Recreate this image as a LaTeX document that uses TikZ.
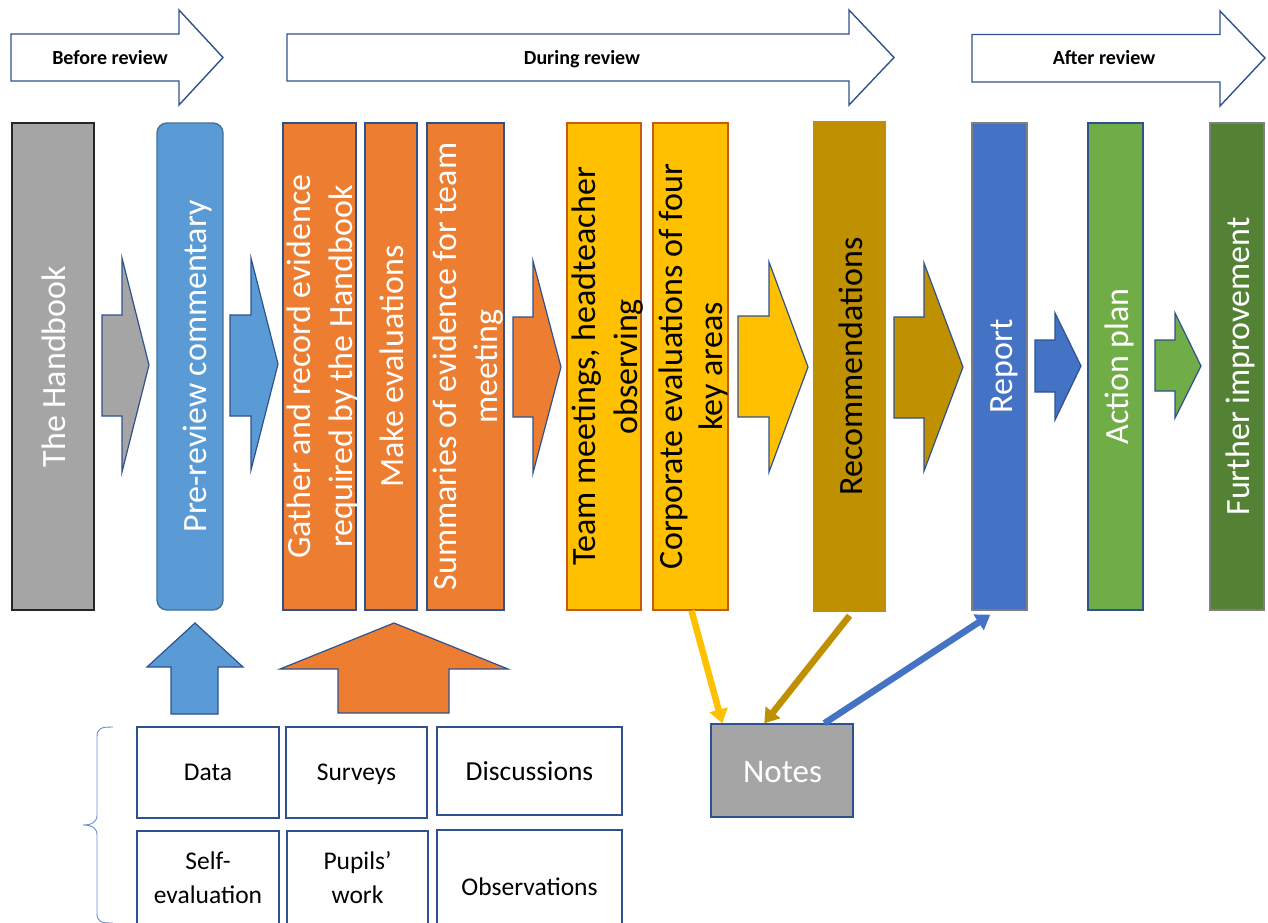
\documentclass[tikz,border=0pt]{standalone}
\usepackage{fontspec}
\setmainfont{Carlito}
\usetikzlibrary{arrows.meta,calc}
\definecolor{cgray}{HTML}{A5A5A5}
\definecolor{cblue}{HTML}{5B9BD5}
\definecolor{corange}{HTML}{ED7D31}
\definecolor{cyellow}{HTML}{FFC000}
\definecolor{cbrown}{HTML}{BF9000}
\definecolor{cdblue}{HTML}{4472C4}
\definecolor{cgreen}{HTML}{70AD47}
\definecolor{cdgreen}{HTML}{548235}
\definecolor{cline}{HTML}{2F528F}
\definecolor{cblueline}{HTML}{41719C}
\definecolor{cyline}{HTML}{C55A11}
\definecolor{cgline}{HTML}{7F7F7F}
\newcommand\myrotfont{\fontsize{34}{42}\selectfont}
\newcommand\mysmallfont{\fontsize{25.5}{31}\selectfont}
\tikzset{
  toparrow/.style={draw=cline, fill=white, line width=1.4pt, line join=miter},
  blk/.style={draw=cline, line width=1.2pt, line join=miter},
  mainbox/.style={rectangle, inner sep=0pt, minimum height=487pt, line width=1.4pt},
  smallbox/.style={rectangle, inner sep=0pt, draw=cline, fill=white, line width=1.4pt},
  headtxt/.style={anchor=base, font=\fontsize{20}{24}\selectfont\bfseries, inner sep=0pt},
  rottxt/.style={anchor=base, rotate=90, font=\myrotfont, inner sep=0pt},
  btxt/.style={anchor=base, font=\mysmallfont, inner sep=0pt},
  conn/.style={line width=6.5pt, -{Triangle[length=14pt,width=18pt]}},
}
\begin{document}
\begin{tikzpicture}[x=1pt,y=-1pt]
\clip (0,0) rectangle (1268,922);
\fill[white] (0,0) rectangle (1268,922);

% ---- top phase arrows
\path[toparrow] (11,34) -- (179,34) -- (179,10) -- (223,57.5) -- (179,105) -- (179,81) -- (11,81) -- cycle;
\path[toparrow] (287,34) -- (849,34) -- (849,10) -- (894,57.5) -- (849,105) -- (849,81) -- (287,81) -- cycle;
\path[toparrow] (972,34.5) -- (1220,34.5) -- (1220,11) -- (1265,58) -- (1220,106) -- (1220,82) -- (972,82) -- cycle;
\node[headtxt] (before) at (110,64.3) {Before review};
\node[headtxt] (during) at (582,64.3) {During review};
\node[headtxt] (after) at (1104,64.3) {After review};

% ---- main boxes
\node[mainbox, fill=cgray, draw=black!85, minimum width=82pt] (hb) at (53,366.5) {};
\node[mainbox, fill=cblue, draw=cblueline, minimum width=66pt, rounded corners=10pt] (pre) at (190,366.5) {};
\node[mainbox, fill=corange, draw=cline, minimum width=73pt] (gather) at (319.5,366.5) {};
\node[mainbox, fill=corange, draw=cline, minimum width=52pt] (make) at (391,366.5) {};
\node[mainbox, fill=corange, draw=cline, minimum width=77pt] (summ) at (465.5,366.5) {};
\node[mainbox, fill=cyellow, draw=cyline, minimum width=74pt] (team) at (604,366.5) {};
\node[mainbox, fill=cyellow, draw=cyline, minimum width=75pt] (corp) at (690.5,366.5) {};
\node[mainbox, fill=cbrown, draw=cbrown, minimum width=71pt, minimum height=489pt] (rec) at (849.5,366.5) {};
\node[mainbox, fill=cdblue, draw=cgline, minimum width=55pt] (report) at (999.5,366.5) {};
\node[mainbox, fill=cgreen, draw=cline, minimum width=55pt] (action) at (1115.5,366.5) {};
\node[mainbox, fill=cdgreen, draw=cgline, minimum width=54pt] (further) at (1237,366.5) {};

% ---- rotated texts
\node[rottxt, text=white] at (65,366.5) {The Handbook};
\node[rottxt, text=white] at (206,366.5) {Pre-review commentary};
\node[rottxt, text=white] at (310,366.5) {Gather and record evidence};
\node[rottxt, text=white] at (352,366.5) {required by the Handbook};
\node[rottxt, text=white] at (403,366.5) {Make evaluations};
\node[rottxt, text=white] at (456,366.5) {Summaries of evidence for team};
\node[rottxt, text=white] at (497,366.5) {meeting};
\node[rottxt, text=black] at (595,366.5) {Team meetings, headteacher};
\node[rottxt, text=black] at (637,366.5) {observing};
\node[rottxt, text=black] at (682,366.5) {Corporate evaluations of four};
\node[rottxt, text=black] at (722,366.5) {key areas};
\node[rottxt, text=black] at (862,366.5) {Recommendations};
\node[rottxt, text=white] at (1012,366.5) {Report};
\node[rottxt, text=white] at (1128,366.5) {Action plan};
\node[rottxt, text=white] at (1249,366.5) {Further improvement};

% ---- block arrows between boxes
\path[blk, fill=cgray] (102,315) -- (122,315) -- (122,258) -- (149,365) -- (122,472) -- (122,416) -- (102,416) -- cycle;
\path[blk, fill=cblue] (230,315) -- (251,315) -- (251,258) -- (278,364) -- (251,470) -- (251,416) -- (230,416) -- cycle;
\path[blk, fill=corange] (513,317) -- (533,317) -- (533,261) -- (561,367) -- (533,473) -- (533,417) -- (513,417) -- cycle;
\path[blk, fill=cyellow] (738,316) -- (769,316) -- (769,262) -- (808,367) -- (769,472) -- (769,417) -- (738,417) -- cycle;
\path[blk, fill=cbrown] (894,317) -- (924,317) -- (924,263) -- (963,367) -- (924,471) -- (924,418) -- (894,418) -- cycle;
\path[blk, fill=cdblue] (1035,340) -- (1055,340) -- (1055,313) -- (1081,366) -- (1055,420) -- (1055,392) -- (1035,392) -- cycle;
\path[blk, fill=cgreen] (1155,340) -- (1175,340) -- (1175,313) -- (1201,366) -- (1175,418) -- (1175,391) -- (1155,391) -- cycle;

% ---- upward block arrows
\path[blk, fill=cblue] (171,714) -- (171,667) -- (147,667) -- (195,623) -- (243,667) -- (218,667) -- (218,714) -- cycle;
\path[blk, fill=corange] (338,713) -- (338,669) -- (280,669) -- (394,623) -- (508,669) -- (449,669) -- (449,713) -- cycle;

% ---- source boxes
\node[smallbox, minimum width=142pt, minimum height=91pt] (data) at (208,772.5) {};
\node[smallbox, minimum width=141pt, minimum height=91pt] (surv) at (356.5,772.5) {};
\node[smallbox, minimum width=185pt, minimum height=88pt] (disc) at (529.5,771) {};
\node[smallbox, minimum width=142pt, minimum height=130pt] (self) at (208,896) {};
\node[smallbox, minimum width=141pt, minimum height=130pt] (pup) at (357.5,896) {};
\node[smallbox, minimum width=185pt, minimum height=130pt] (obs) at (529.5,895) {};
\node[btxt] at (208,780.7) {Data};
\node[btxt] at (356.5,780.7) {Surveys};
\node[btxt, font=\fontsize{27.5}{33}\selectfont] at (529.5,780) {Discussions};
\node[btxt] at (208,869) {Self-};
\node[btxt] at (208,903) {evaluation};
\node[btxt] at (357.5,869) {Pupils’};
\node[btxt] at (357.5,903) {work};
\node[btxt] at (529.5,895) {Observations};

% ---- brace
\draw[cdblue!80, line width=0.9pt] (113,727) .. controls (101,727) and (97,728) .. (97,737) -- (97,815) .. controls (97,822) and (92,825) .. (83,825) .. controls (92,825) and (97,828) .. (97,835) -- (97,913) .. controls (97,922) and (101,923) .. (113,923);

% ---- notes
\node[rectangle, fill=cgray, draw=cline, line width=1.4pt, minimum width=142pt, minimum height=93pt, inner sep=0pt] (notes) at (782,770.5) {};
\node[anchor=base, text=white, font=\fontsize{33}{40}\selectfont, inner sep=0pt] at (782.5,782.7) {Notes};

% ---- connectors
\draw[conn, draw=cyellow] ($(corp.south)+(1,0)$) -- ($(notes.north west)+(12,0)$);
\draw[conn, draw=cbrown] ($(rec.south)+(0,4)$) -- ($(notes.north west)+(54,0)$);
\draw[conn, draw=cdblue] ($(notes.north west)+(114,0)$) -- ($(report.south west)+(19,4)$);
\end{tikzpicture}
\end{document}
